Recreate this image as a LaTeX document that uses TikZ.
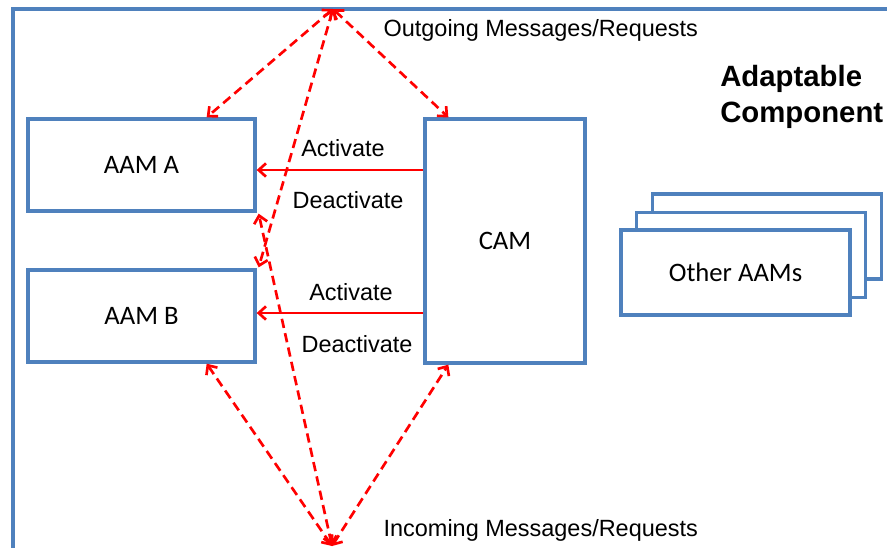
\documentclass[tikz,border=0pt]{standalone}
\usepackage{fontspec}
\setmainfont{Liberation Sans}
\newfontfamily\boxfont{Carlito}
\usetikzlibrary{arrows.meta,calc}
\definecolor{boxblue}{HTML}{4F81BD}
\definecolor{arrred}{HTML}{FF0000}
\begin{document}
\begin{tikzpicture}[x=0.75pt,y=-0.75pt,
  modbox/.style={draw=boxblue,line width=2.5pt,fill=white,inner sep=0pt,font=\boxfont\fontsize{20}{24}\selectfont},
  lbl/.style={font=\fontsize{17.6}{21}\selectfont,inner sep=1pt},
  msgarrow/.style={draw=arrred,line width=2pt,dash pattern=on 7pt off 4pt,{Straight Barb[length=5.5pt,width=10pt]}-{Straight Barb[length=5.5pt,width=10pt]}},
  ctlarrow/.style={draw=arrred,line width=2pt,-{Straight Barb[length=5.5pt,width=10pt]}}]
\useasboundingbox (0,0) rectangle (887,547);
\clip (0,0) rectangle (887,547);
\fill[white] (0,0) rectangle (887,547);
% outer frame (cropped)
\draw[boxblue,line width=2.5pt] (13,9) rectangle (940,600);
% boxes
\node[modbox,minimum width=227*0.75pt,minimum height=92*0.75pt] (aamA) at (141.5,165) {AAM A};
\node[modbox,minimum width=227*0.75pt,minimum height=92*0.75pt] (aamB) at (141.5,316) {AAM B};
\node[modbox,minimum width=160*0.75pt,minimum height=244*0.75pt] (cam) at (505,241) {CAM};
\node[modbox,minimum width=229*0.75pt,minimum height=85*0.75pt] (oth3) at (767,236.5) {};
\node[modbox,minimum width=229*0.75pt,minimum height=85*0.75pt] (oth2) at (751,255) {};
\node[modbox,minimum width=229*0.75pt,minimum height=85*0.75pt] (oth1) at (735.5,272.5) {Other AAMs};
% apex coordinates
\coordinate (topapex) at (333,9);
\coordinate (botapex) at (332,546);
% dashed message arrows
\draw[msgarrow] (topapex) -- ($(aamA.north east)+(-50,0)$);
\draw[msgarrow] (topapex) -- ($(aamB.north east)+(2,-1)$);
\draw[msgarrow] (topapex) -- ($(cam.north west)+(25,0)$);
\draw[msgarrow] (botapex) -- ($(aamB.south east)+(-50,0)$);
\draw[msgarrow] (botapex) -- ($(aamA.south east)+(2,1)$);
\draw[msgarrow] (botapex) -- ($(cam.south west)+(25,0)$);
% control arrows
\coordinate (aIn) at ($(aamA.east)+(0,5)$);
\coordinate (bIn) at ($(aamB.east)+(0,-3)$);
\draw[ctlarrow] (cam.west |- aIn) -- (aIn);
\draw[ctlarrow] (cam.west |- bIn) -- (bIn);
% labels
\node[lbl] (actA) at (343,148) {Activate};
\node[lbl] (deaA) at (348,200) {Deactivate};
\node[lbl] (actB) at (351,292) {Activate};
\node[lbl] (deaB) at (357,344) {Deactivate};
\node[lbl,anchor=west] (outg) at (382,30) {Outgoing Messages/Requests};
\node[lbl,anchor=west] (inc) at (382,530) {Incoming Messages/Requests};
\node[anchor=west,align=left,inner sep=0pt,font=\bfseries\fontsize{22}{26.5}\selectfont] (title) at (720,97) {Adaptable\\Component};
\end{tikzpicture}
\end{document}
